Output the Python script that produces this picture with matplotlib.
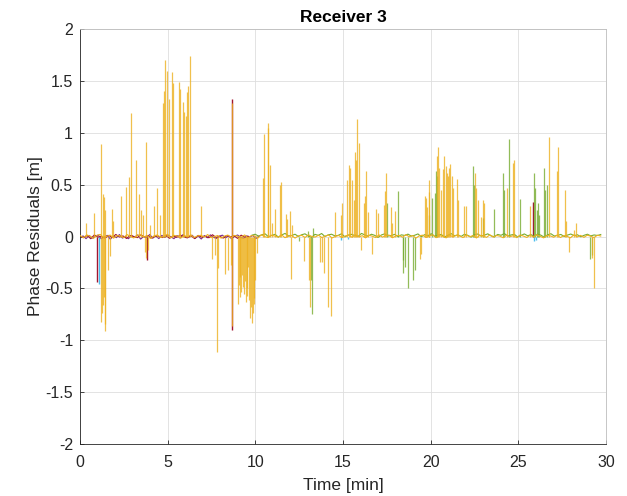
import numpy as np
import matplotlib
matplotlib.use("Agg")
import matplotlib.pyplot as plt

plt.rcParams['font.family'] = ['Liberation Sans', 'DejaVu Sans']

# ---------------- data ----------------
title = "Receiver 3"
xlabel = "Time [min]"
ylabel = "Phase Residuals [m]"
xticks = [0, 5, 10, 15, 20, 25, 30]
yticks = [-2, -1.5, -1, -0.5, 0, 0.5, 1, 1.5, 2]

# orange satellite residual spikes (time [min], residual [m])
orange_t = [0.34, 0.8, 1.2, 1.32, 1.37, 1.42, 1.83, 1.9, 2.34, 2.63, 2.8, 2.9, 3.17, 3.35, 3.5, 3.57,
            3.77, 3.98, 4.22, 4.39, 4.58, 4.74, 4.79, 4.87, 4.99, 5.05, 5.23, 5.33, 5.63, 5.72, 5.87,
            5.95, 6.02, 6.12, 6.18, 6.27, 6.92, 8.67,
            10.46, 10.52, 10.71, 10.75, 10.85, 10.93, 11.12, 11.41, 11.47, 11.73, 11.83, 11.95, 12.1,
            14.55, 14.86, 14.96, 15.25, 15.33, 15.4, 15.52, 15.6, 15.69, 15.75, 15.82, 15.89, 16.18,
            16.25, 16.33, 16.45, 16.9, 16.98, 17.36, 17.42, 17.47, 17.75, 17.82, 17.98, 19.68, 19.74,
            19.8, 19.88, 19.93, 20.38, 20.44, 20.5, 20.6, 20.7, 20.75, 20.88, 20.93, 21.0, 21.07,
            21.13, 21.2, 21.27, 21.49, 21.55, 21.9, 22.03, 22.53, 22.6, 22.68, 22.86, 22.97, 23.03,
            24.35, 24.68, 24.74, 25.67, 26.75, 27.23, 27.27, 27.65, 27.73, 28.2, 28.3,
            1.2, 1.25, 1.3, 1.35, 1.4, 1.45, 1.6, 1.7, 3.72, 3.77, 3.9, 7.55, 7.7, 7.8, 7.87, 8.25,
            8.43, 8.6, 8.67, 9.01, 9.05, 9.1, 9.15, 9.2, 9.25, 9.3, 9.35, 9.4, 9.45, 9.5, 9.55, 9.6,
            9.65, 9.7, 9.75, 9.8, 9.85, 9.9, 9.95, 10.0, 10.1,
            12.04, 12.8, 13.05, 13.12, 13.69, 13.78, 13.92, 14.17, 14.32, 16.0, 16.67, 19.39, 19.45,
            27.9, 29.2, 29.3]
orange_v = [0.13, 0.23, 0.89, 0.41, 0.38, 0.26, 0.27, 0.15, 0.39, 0.48, 0.57, 1.19, 0.74, 0.41, 0.26, 0.21,
            0.91, 0.11, 0.29, 0.47, 0.21, 1.29, 1.40, 1.70, 1.60, 1.33, 1.59, 1.48, 1.49, 1.42, 1.30,
            1.20, 1.16, 1.39, 1.45, 1.74, 0.29, 1.29,
            0.56, 0.99, 1.09, 1.05, 0.69, 0.13, 0.27, 0.50, 0.53, 0.22, 0.17, 0.25, 0.11,
            0.24, 0.21, 0.32, 0.54, 0.69, 0.66, 0.54, 0.35, 0.81, 0.74, 1.13, 0.90, 0.32,
            0.39, 0.63, 0.24, 0.27, 0.23, 0.30, 0.44, 0.61, 0.28, 0.13, 0.25, 0.39, 0.37,
            0.28, 0.43, 0.54, 0.78, 0.86, 0.66, 0.45, 0.65, 0.78, 0.68, 0.61, 0.58, 0.66,
            0.70, 0.58, 0.47, 0.55, 0.35, 0.29, 0.29, 0.61, 0.47, 0.35, 0.19, 0.35, 0.32,
            0.47, 0.71, 0.74, 0.29, 0.96, 0.63, 0.86, 0.45, 0.15, 0.06, 0.13,
            -0.82, -0.74, -0.66, -0.58, -0.84, -0.91, -0.32, -0.19, -0.15, -0.21, -0.13, -0.22, -0.18, -1.11, -0.30, -0.36,
            -0.32, -0.27, -0.86, -0.65, -0.47, -0.39, -0.58, -0.53, -0.37, -0.49, -0.55, -0.43, -0.63, -0.57, -0.50, -0.29,
            -0.61, -0.79, -0.68, -0.83, -0.74, -0.65, -0.59, -0.42, -0.16,
            -0.41, -0.24, -0.42, -0.68, -0.25, -0.25, -0.35, -0.68, -0.77, -0.13, -0.17, -0.22, -0.17,
            -0.15, -0.21, -0.50]

# green satellite residual spikes
green_t = [13.0, 13.3, 17.52, 18.12, 19.9, 20.1, 20.25, 20.31, 20.35, 22.44, 22.5, 23.0, 23.6, 24.11,
           24.17, 24.47, 25.1, 25.9, 25.95, 26.05, 26.1, 26.2, 26.47, 26.5, 26.64,
           12.5, 13.15, 13.25, 18.4, 18.45, 18.55, 18.71, 19.0, 19.1, 29.1, 29.2]
green_v = [0.05, 0.08, 0.32, 0.44, 0.21, 0.37, 0.42, 0.63, 0.58, 0.68, 0.50, 0.18, 0.27, 0.61,
           0.45, 0.94, 0.36, 0.61, 0.47, 0.26, 0.32, 0.21, 0.66, 0.45, 0.50,
           -0.04, -0.42, -0.75, -0.35, -0.23, -0.29, -0.50, -0.42, -0.32, -0.22, -0.18]

# dark red satellite spikes
red_t = [0.95, 3.8, 8.67, 8.67, 25.82]
red_v = [-0.44, -0.23, 1.33, -0.90, 0.33]

# light blue satellite spikes
cyan_t = [1.1, 14.9, 15.3, 25.9, 26.0]
cyan_v = [-0.46, -0.03, -0.02, -0.04, -0.03]

# near-zero residual traces
orange_base = [0.010, -0.012, 0.015, 0.004, -0.018, 0.011, 0.020, -0.008, 0.002, 0.014, -0.016, 0.009,
               0.005, -0.011, 0.019, 0.001, -0.014, 0.012, 0.016, -0.006, 0.010, -0.019, 0.006, 0.015,
               -0.009, 0.001, 0.021, -0.012, 0.011, 0.004, -0.015, 0.009, -0.002, 0.016, -0.010, 0.006,
               0.012, -0.005, 0.019, -0.011, 0.000, 0.010, -0.016, 0.004, 0.014, -0.009, 0.011, 0.001,
               -0.006, 0.015, -0.012, 0.009, 0.005, -0.014, 0.018, -0.001, -0.010, 0.012, 0.004, -0.006,
               0.016, -0.011, 0.002, 0.010, -0.015, 0.006, 0.011, -0.009, 0.016, 0.000, -0.005, 0.012,
               -0.010, 0.004, 0.015, -0.014, 0.001, 0.010, -0.011, 0.006, 0.013, -0.008, 0.017, -0.004,
               0.008, -0.013, 0.012, 0.003, -0.010, 0.016, -0.006, 0.009, 0.014, -0.012, 0.005, 0.011,
               -0.007, 0.018, -0.003, 0.010, -0.015, 0.007, 0.013, -0.009, 0.004, 0.017, -0.011, 0.008,
               0.002, -0.013, 0.015, -0.004, 0.011, 0.006, -0.010, 0.014, -0.002, 0.009, -0.014, 0.012,
               0.005, -0.008, 0.016, -0.006, 0.010, 0.003, -0.012, 0.013, -0.001, 0.008, -0.011, 0.015,
               0.004, -0.009, 0.012, -0.005, 0.017, 0.002, -0.013, 0.010, 0.006, -0.007, 0.014, -0.010,
               0.009, 0.001, -0.012, 0.016, -0.004, 0.011, -0.008, 0.013, 0.003, -0.010, 0.012, 0.005]
green_base = [0.012, 0.022, 0.004, 0.016, 0.026, -0.002, 0.011, 0.021, -0.006, 0.015, 0.030, 0.006,
              0.010, 0.022, 0.001, 0.017, 0.026, 0.004, -0.008, 0.021, 0.011, 0.029, 0.000, 0.016,
              0.022, 0.006, 0.011, 0.027, -0.004, 0.014, 0.021, 0.009, 0.001, 0.030, 0.015, 0.004,
              0.022, 0.011, -0.009, 0.015, 0.026, 0.005, 0.010, 0.021, -0.001, 0.016, 0.010, 0.023,
              0.004, 0.012, 0.025, -0.003, 0.018, 0.008, 0.027, 0.002, 0.014, 0.020, -0.005, 0.012,
              0.028, 0.007, 0.016, 0.001, 0.022, 0.011, -0.006, 0.019, 0.024, 0.003, 0.013, 0.026,
              0.006, -0.002, 0.020, 0.012, 0.029, 0.004, 0.015, 0.021, -0.004, 0.010, 0.025, 0.007,
              0.018, 0.002, 0.023, 0.013, -0.007, 0.016, 0.027, 0.005, 0.011, 0.020, 0.000, 0.014,
              0.024, 0.008, 0.017, -0.003, 0.012, 0.022, 0.006, 0.015, 0.010, 0.019]
purple_base = [-0.010, 0.006, -0.021, 0.010, -0.016, 0.001, 0.014, -0.022, -0.005, 0.011, -0.026, 0.004,
               -0.011, 0.019, -0.015, 0.000, -0.021, 0.010, -0.006, 0.015, -0.025, 0.001, -0.010, 0.020,
               -0.016, 0.005, -0.020, 0.011, -0.009, 0.014, -0.004, -0.021, 0.010, -0.015, 0.019, -0.011,
               -0.003, 0.012, -0.018, 0.006, -0.024, 0.009, -0.012, 0.016, -0.007, -0.019, 0.004, 0.013,
               -0.014, 0.008, -0.022, 0.002, 0.015, -0.010, -0.017, 0.007, -0.005, 0.011, -0.020, 0.003]
red_base = [0.005, -0.011, 0.010, -0.021, 0.015, -0.006, 0.001, -0.016, 0.011, -0.010, 0.020, -0.005,
            0.006, -0.019, 0.010, 0.000, -0.011, 0.016, -0.004, 0.009, -0.015, 0.006, 0.001, -0.010,
            0.012, -0.017, 0.004, -0.008, 0.014, -0.002, -0.013, 0.008, -0.020, 0.011, -0.006, 0.003,
            -0.012, 0.017, -0.009, 0.002, -0.015, 0.010, -0.004, 0.007, -0.018, 0.013, -0.007, 0.001]

ORANGE = '#EDB120'
GREEN = '#77AC30'
PURPLE = '#7E2F8E'
DRED = '#A2142F'
CYAN = '#4DBEEE'

# ---------------- figure ----------------
fig = plt.figure(figsize=(6.27, 4.96), dpi=100)
ax = fig.add_axes([0.1276, 0.1048, 0.8389, 0.8367])

t_orange_base = np.linspace(0.0, 29.7, len(orange_base))
t_green_base = np.linspace(9.8, 29.7, len(green_base))
t_purple_base = np.linspace(0.0, 10.2, len(purple_base))
t_red_base = np.linspace(0.0, 9.6, len(red_base))

ax.plot(t_purple_base, purple_base, color=PURPLE, lw=0.8, zorder=2)
ax.plot(t_red_base, red_base, color=DRED, lw=0.8, zorder=2)
ax.vlines(red_t, 0, red_v, color=DRED, lw=1.0, zorder=2)
ax.vlines(cyan_t, 0, cyan_v, color=CYAN, lw=1.0, zorder=2)
ax.plot(t_green_base, green_base, color=GREEN, lw=0.8, zorder=3)
ax.vlines(green_t, 0, green_v, color=GREEN, lw=0.9, alpha=0.8, zorder=3)
ax.vlines(orange_t, 0, orange_v, color=ORANGE, lw=0.9, alpha=0.8, zorder=4)
ax.plot(t_orange_base, orange_base, color=ORANGE, lw=0.8, zorder=4)

ax.set_xlim(0, 30)
ax.set_ylim(-2, 2)
ax.set_xticks(xticks)
ax.set_yticks(yticks)
ax.set_xticklabels([f"{v:g}" for v in xticks])
ax.set_yticklabels([f"{v:g}" for v in yticks])
ax.grid(True, color='#dedede', lw=0.6)
ax.set_axisbelow(True)
ax.tick_params(direction='in', length=3, width=0.6, colors='#262626', labelsize=11.5,
               top=False, right=False, pad=5)
ax.tick_params(axis='x', pad=8)
for s in ax.spines.values():
    s.set_color('#262626')
    s.set_linewidth(0.6)
ax.spines['top'].set_color('#bdbdbd')
ax.spines['right'].set_color('#bdbdbd')

ax.set_title(title, fontsize=12.5, fontweight='bold', color='black', pad=5)
ax.set_xlabel(xlabel, fontsize=12.5, color='#262626', labelpad=6)
ax.set_ylabel(ylabel, fontsize=12.5, color='#262626', labelpad=2)

fig.savefig('out.png', dpi=100)
